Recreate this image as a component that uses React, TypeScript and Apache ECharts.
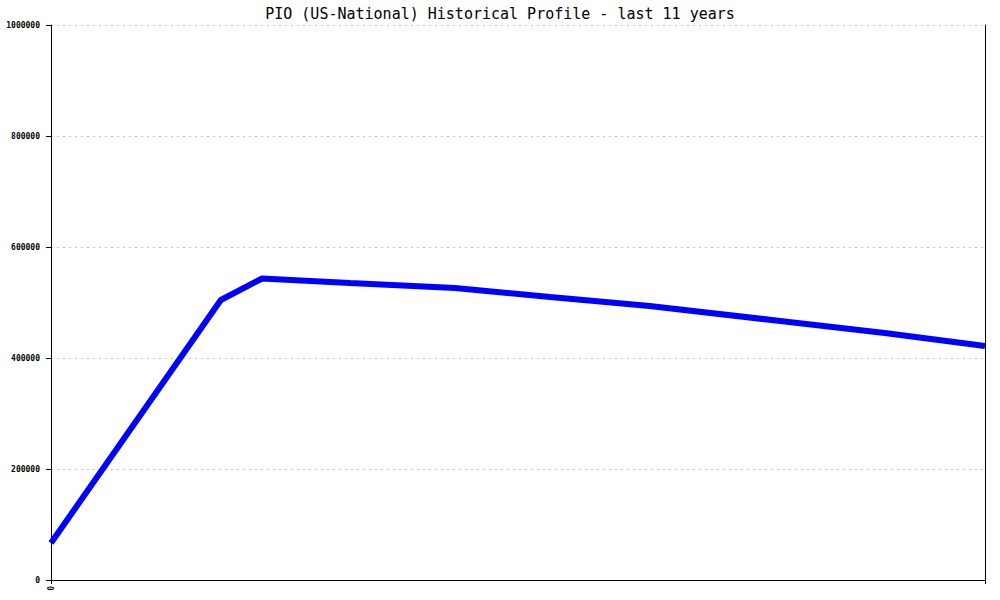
import React, { useEffect, useRef } from "react";
import * as echarts from "echarts";

const titleText = "PIO (US-National) Historical Profile - last 11 years";
// x position in years since the start of the 11-year window
const yearsSinceStart = [0, 2.0, 2.485, 3.52, 4.76, 5.88, 7.05, 8.59, 9.82, 11.0];
const population = [66700, 504500, 543200, 535000, 526100, 509900, 493700, 466700, 445000, 421600];
const yTicks = [0, 200000, 400000, 600000, 800000, 1000000];

export default function App() {
  const ref = useRef<HTMLDivElement>(null);
  useEffect(() => {
    if (!ref.current) return;
    const chart = echarts.init(ref.current, undefined, { renderer: "svg" });
    const data = yearsSinceStart.map((x, i) => [x, population[i]]);
    chart.setOption({
      animation: false,
      backgroundColor: "#ffffff",
      title: {
        text: titleText,
        left: "center",
        top: 1,
        textStyle: {
          fontFamily: "DejaVu Sans Mono",
          fontSize: 15,
          fontWeight: "normal",
          color: "#000000",
        },
      },
      grid: {
        left: 51,
        right: 15,
        top: 25,
        bottom: 20,
        containLabel: false,
        outerBoundsMode: "none",
      },
      xAxis: {
        type: "value",
        min: 0,
        max: 11,
        interval: 11,
        axisLine: { show: true, lineStyle: { color: "#000", width: 1 } },
        axisTick: { show: true, length: 4, lineStyle: { color: "#000" } },
        splitLine: { show: false },
        axisLabel: {
          rotate: 90,
          margin: 6,
          fontFamily: "DejaVu Sans Mono",
          fontSize: 8,
          fontWeight: "bold",
          color: "#000",
          formatter: (v: number) => (v === 0 ? "0" : ""),
        },
      },
      yAxis: [
        {
          type: "value",
          min: yTicks[0],
          max: yTicks[yTicks.length - 1],
          interval: 200000,
          axisLine: { show: true, lineStyle: { color: "#000", width: 1 } },
          axisTick: { show: true, length: 5, lineStyle: { color: "#000" } },
          axisLabel: {
            margin: 11,
            fontFamily: "DejaVu Sans Mono",
            fontSize: 8,
            fontWeight: "bold",
            color: "#000",
            formatter: (v: number) => String(v),
          },
          splitLine: {
            show: true,
            lineStyle: { color: "#c0c0c0", type: [2, 4], width: 1 },
          },
        },
        {
          type: "value",
          position: "right",
          min: 0,
          max: 1000000,
          interval: 200000,
          axisLine: { show: true, lineStyle: { color: "#000", width: 1 } },
          axisTick: { show: false },
          axisLabel: { show: false },
          splitLine: { show: false },
        },
      ],
      series: [
        {
          type: "line",
          data,
          yAxisIndex: 0,
          symbol: "none",
          lineStyle: { color: "#0000ff", width: 6 },
          z: 3,
        },
      ],
    });
    return () => chart.dispose();
  }, []);
  return (
    <div
      ref={ref}
      style={{ position: "fixed", left: 0, top: 0, width: 1000, height: 600 }}
    />
  );
}
